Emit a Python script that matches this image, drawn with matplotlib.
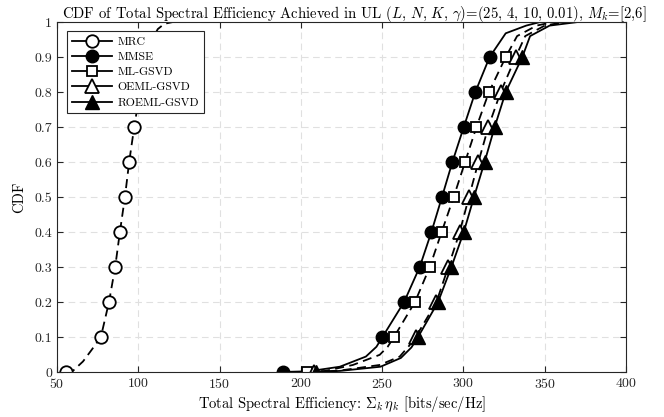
import matplotlib
matplotlib.use("Agg")
import matplotlib.pyplot as plt
from matplotlib.lines import Line2D

plt.rcParams['font.family'] = 'serif'
plt.rcParams['font.serif'] = ['cmr10', 'DejaVu Serif']
plt.rcParams['mathtext.fontset'] = 'cm'
plt.rcParams['axes.formatter.use_mathtext'] = True

# ---- data ----
mrc_x = [55.5, 60, 66, 71.3, 77, 82, 85.8, 88.7, 91.8, 94.4, 97.5, 101, 105, 108.5, 112, 116, 121]
mrc_y = [0, 0.004, 0.03, 0.063, 0.1, 0.2, 0.3, 0.4, 0.5, 0.6, 0.7, 0.8, 0.9, 0.95, 0.98, 0.995, 1.0]
mrc_marks = [0, 4, 5, 6, 7, 8, 9, 10, 11, 12]

mmse_x = [189, 205, 224, 240, 246.5, 250.2, 263.5, 273.1, 280.3, 286.8, 293.2, 300.2, 307.3, 316.1, 326, 338.6, 347]
mmse_y = [0, 0.002, 0.015, 0.044, 0.072, 0.1, 0.2, 0.3, 0.4, 0.5, 0.6, 0.7, 0.8, 0.9, 0.968, 0.99, 1.0]

ml_x = [203.5, 215, 232, 248.5, 253.4, 257.3, 270.2, 279.3, 286.6, 294, 301, 308, 315.7, 326, 333, 345, 355]
ml_y = [0, 0.003, 0.02, 0.049, 0.072, 0.1, 0.2, 0.3, 0.4, 0.5, 0.6, 0.7, 0.8, 0.9, 0.96, 0.99, 1.0]

oeml_x = [208, 224, 248.5, 260.8, 267, 270.7, 283.4, 290.7, 297.7, 303.4, 309.2, 315.3, 322.9, 332.1, 338, 350, 362]
oeml_y = [0, 0.004, 0.02, 0.044, 0.077, 0.1, 0.2, 0.3, 0.4, 0.5, 0.6, 0.7, 0.8, 0.9, 0.96, 0.99, 1.0]

roeml_x = [209.6, 224, 249, 261.5, 268, 272.1, 284.4, 292.6, 300.2, 306.5, 313, 319.2, 326, 336.2, 341, 353, 370]
roeml_y = [0, 0.003, 0.015, 0.04, 0.07, 0.1, 0.2, 0.3, 0.4, 0.5, 0.6, 0.7, 0.8, 0.9, 0.96, 0.99, 1.0]

right_marks = [0, 5, 6, 7, 8, 9, 10, 11, 12, 13]

labels = ['MRC', 'MMSE', 'ML-GSVD', 'OEML-GSVD', 'ROEML-GSVD']
xticks = [50, 100, 150, 200, 250, 300, 350, 400]
yticks = [0, 0.1, 0.2, 0.3, 0.4, 0.5, 0.6, 0.7, 0.8, 0.9, 1]
ytick_labels = ['0', '0.1', '0.2', '0.3', '0.4', '0.5', '0.6', '0.7', '0.8', '0.9', '1']

fig = plt.figure(figsize=(6.64, 4.17), dpi=100)
ax = fig.add_axes([0.0858, 0.108, 0.857, 0.839])

lw = 1.3
dash = (5, 3)
ms_c = 9
ms_t = 9.5
ms_s = 7

ax.plot(mrc_x, mrc_y, color='k', lw=lw, dashes=dash, marker='o', ms=ms_c,
        mfc='white', mec='k', mew=1.3, markevery=mrc_marks)
ax.plot(mmse_x, mmse_y, color='k', lw=lw, ls='-', marker='o', ms=ms_c,
        mfc='k', mec='k', markevery=right_marks)
ax.plot(ml_x, ml_y, color='k', lw=lw, dashes=dash, marker='s', ms=ms_s,
        mfc='white', mec='k', mew=1.3, markevery=right_marks)
ax.plot(oeml_x, oeml_y, color='k', lw=lw, dashes=dash, marker='^', ms=ms_t,
        mfc='white', mec='k', mew=1.3, markevery=right_marks)
ax.plot(roeml_x, roeml_y, color='k', lw=lw, ls='-', marker='^', ms=ms_t,
        mfc='k', mec='k', markevery=right_marks)

ax.set_xlim(50, 400)
ax.set_ylim(0, 1)
ax.set_xticks(xticks)
ax.set_yticks(yticks)
ax.set_yticklabels(ytick_labels)
ax.tick_params(direction='in', length=4, width=0.8, labelsize=10, top=True, right=True,
               colors='#262626')
ax.grid(True, ls=(0, (6, 4)), color='#e0e0e0', lw=0.8)
for s in ax.spines.values():
    s.set_linewidth(0.8)
    s.set_color('#262626')

ax.set_title(r'CDF of Total Spectral Efficiency Achieved in UL $(L,\,N,\,K,\,\gamma)$=(25, 4, 10, 0.01), $M_k$=[2,6]',
             fontsize=10.6, pad=3, x=0.523)
ax.set_xlabel(r'Total Spectral Efficiency: $\Sigma_k\,\eta_k$ [bits/sec/Hz]', fontsize=10.5, labelpad=2)
ax.set_ylabel('CDF', fontsize=10.5, labelpad=6)

handles = [
    Line2D([], [], color='k', lw=lw, marker='o', ms=ms_c, mfc='white', mec='k', mew=1.3),
    Line2D([], [], color='k', lw=lw, marker='o', ms=ms_c, mfc='k', mec='k'),
    Line2D([], [], color='k', lw=lw, marker='s', ms=ms_s, mfc='white', mec='k', mew=1.3),
    Line2D([], [], color='k', lw=lw, marker='^', ms=ms_t, mfc='white', mec='k', mew=1.3),
    Line2D([], [], color='k', lw=lw, marker='^', ms=ms_t, mfc='k', mec='k'),
]
leg = ax.legend(handles, labels, loc='upper left', bbox_to_anchor=(0.017, 0.974),
                fontsize=8.5, fancybox=False, framealpha=1, edgecolor='#262626',
                handlelength=3.4, labelspacing=0.42, borderpad=0.45, handletextpad=0.45,
                borderaxespad=0)
leg.get_frame().set_linewidth(0.8)

fig.savefig('out.png', dpi=100)
